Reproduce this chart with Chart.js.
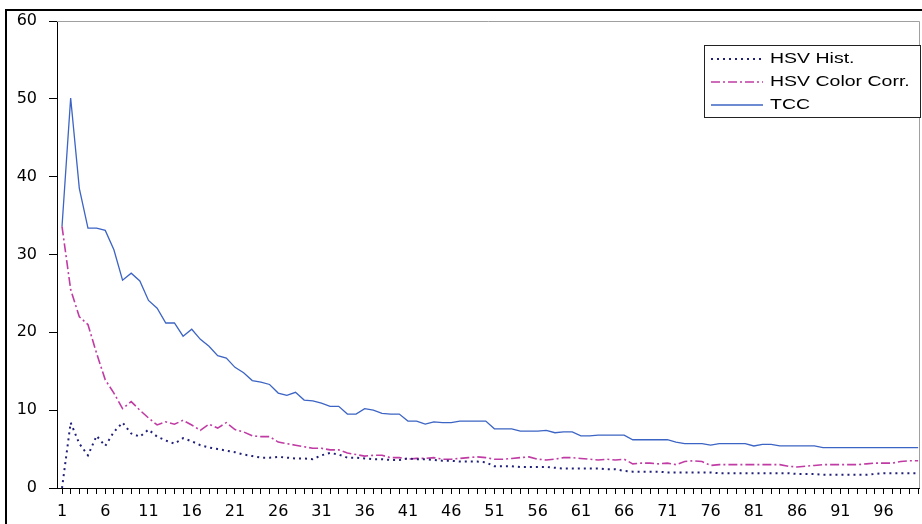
<!DOCTYPE html>
<html>
<head>
<meta charset="utf-8">
<script src="https://cdn.jsdelivr.net/npm/chart.js@4"></script>
<style>
  html, body { margin: 0; padding: 0; background: #fff; }
  #wrap { width: 922px; height: 524px; }
</style>
</head>
<body>
<div id="wrap"><canvas id="chart" width="922" height="524"></canvas></div>
<script>
// period numbers 1..100
const periods = Array.from({ length: 100 }, (_, i) => i + 1);

const hsvHist = [
  0, 8.4, 5.7, 4.2, 6.7, 5.4, 7.2, 8.4, 7.0, 6.6,
  7.5, 6.6, 6.1, 5.7, 6.4, 6.0, 5.5, 5.2, 5.0, 4.8,
  4.6, 4.3, 4.1, 3.9, 3.9, 4.0, 3.9, 3.8, 3.8, 3.7,
  4.2, 4.5, 4.3, 3.9, 3.9, 3.8, 3.7, 3.7, 3.6, 3.6,
  3.8, 3.7, 3.7, 3.6, 3.5, 3.5, 3.4, 3.4, 3.4, 3.3,
  2.8, 2.8, 2.8, 2.7, 2.7, 2.7, 2.7, 2.6, 2.5, 2.5,
  2.5, 2.5, 2.5, 2.4, 2.4, 2.2, 2.1, 2.1, 2.1, 2.1,
  2.0, 2.0, 2.0, 2.0, 2.0, 2.0, 1.9, 1.9, 1.9, 1.9,
  1.9, 1.9, 1.9, 1.9, 1.9, 1.8, 1.8, 1.8, 1.7, 1.7,
  1.7, 1.7, 1.7, 1.7, 1.8, 1.9, 1.9, 1.9, 1.9, 1.9
];

const hsvColorCorr = [
  33.6, 25.5, 22.0, 21.0, 17.3, 13.9, 12.2, 10.2, 11.1, 10.0,
  9.0, 8.1, 8.5, 8.2, 8.7, 8.1, 7.4, 8.2, 7.7, 8.4,
  7.5, 7.2, 6.7, 6.6, 6.6, 5.9, 5.7, 5.5, 5.3, 5.1,
  5.1, 4.9, 4.9, 4.5, 4.3, 4.1, 4.2, 4.2, 3.9, 3.9,
  3.7, 3.8, 3.8, 3.9, 3.7, 3.7, 3.8, 3.9, 4.0, 3.9,
  3.7, 3.7, 3.8, 3.9, 4.0, 3.7, 3.6, 3.7, 3.9, 3.9,
  3.8, 3.7, 3.6, 3.7, 3.6, 3.7, 3.1, 3.2, 3.2, 3.1,
  3.2, 3.0, 3.4, 3.5, 3.4, 2.9, 3.0, 3.0, 3.0, 3.0,
  3.0, 3.0, 3.0, 3.0, 2.8, 2.7, 2.8, 2.9, 3.0, 3.0,
  3.0, 3.0, 3.0, 3.1, 3.2, 3.2, 3.2, 3.4, 3.5, 3.5
];

const tcc = [
  33.6, 50.1, 38.5, 33.4, 33.4, 33.1, 30.6, 26.7, 27.6, 26.6,
  24.1, 23.1, 21.2, 21.2, 19.5, 20.4, 19.1, 18.2, 17.0, 16.7,
  15.5, 14.8, 13.8, 13.6, 13.3, 12.2, 11.9, 12.3, 11.3, 11.2,
  10.9, 10.5, 10.5, 9.5, 9.5, 10.2, 10.0, 9.6, 9.5, 9.5,
  8.6, 8.6, 8.2, 8.5, 8.4, 8.4, 8.6, 8.6, 8.6, 8.6,
  7.6, 7.6, 7.6, 7.3, 7.3, 7.3, 7.4, 7.1, 7.2, 7.2,
  6.7, 6.7, 6.8, 6.8, 6.8, 6.8, 6.2, 6.2, 6.2, 6.2,
  6.2, 5.9, 5.7, 5.7, 5.7, 5.5, 5.7, 5.7, 5.7, 5.7,
  5.4, 5.6, 5.6, 5.4, 5.4, 5.4, 5.4, 5.4, 5.2, 5.2,
  5.2, 5.2, 5.2, 5.2, 5.2, 5.2, 5.2, 5.2, 5.2, 5.2
];

const yTicks = [0, 10, 20, 30, 40, 50, 60];

const toPoints = arr => arr.map((v, i) => ({ x: periods[i], y: v }));

const FONT = "'Liberation Sans', Arial, sans-serif";
const TICK_FONT = "'DejaVu Sans', Verdana, sans-serif";

// frame, gray plot border and the boxed legend
const decorPlugin = {
  id: "decor",
  beforeDraw(chart) {
    const c = chart.ctx;
    c.save();
    c.fillStyle = "#fff";
    c.fillRect(0, 0, chart.width, chart.height);
    c.restore();
  },
  afterDraw(chart) {
    const c = chart.ctx;
    const a = chart.chartArea;
    c.save();
    // gray top and right border of the plot
    c.strokeStyle = "#a0a0a0";
    c.lineWidth = 1;
    c.beginPath();
    c.moveTo(a.left, a.top + 0.5);
    c.lineTo(a.right + 0.5, a.top + 0.5);
    c.lineTo(a.right + 0.5, a.bottom);
    c.stroke();

    // outer black frame (top and left)
    c.strokeStyle = "#000";
    c.lineWidth = 2;
    c.beginPath();
    c.moveTo(6, chart.height);
    c.lineTo(6, 10);
    c.lineTo(chart.width, 10);
    c.stroke();

    // legend box
    const bx = 704, by = 45, bw = 216, bh = 72;
    c.fillStyle = "#fff";
    c.fillRect(bx, by, bw, bh);
    c.strokeStyle = "#222";
    c.lineWidth = 1;
    c.strokeRect(bx + 0.5, by + 0.5, bw, bh);
    c.textBaseline = "middle";
    chart.data.datasets.forEach((ds, i) => {
      const y = by + 14 + i * 23;
      c.strokeStyle = ds.borderColor;
      c.lineWidth = ds.borderWidth;
      c.setLineDash(ds.borderDash || []);
      c.beginPath();
      c.moveTo(711, y);
      c.lineTo(763, y);
      c.stroke();
      c.setLineDash([]);
      // the original text is drawn wide, stretch it a bit
      c.save();
      c.translate(770, y);
      c.scale(1.3, 1);
      c.font = "15px " + FONT;
      c.fillStyle = "#000";
      c.fillText(ds.label, 0, 0);
      c.restore();
    });
    c.restore();
  }
};

new Chart(document.getElementById("chart"), {
  type: "line",
  data: {
    datasets: [
      {
        label: "HSV Hist.",
        data: toPoints(hsvHist),
        borderColor: "#20207a",
        borderWidth: 2,
        borderDash: [2, 4],
        pointRadius: 0,
        tension: 0
      },
      {
        label: "HSV Color Corr.",
        data: toPoints(hsvColorCorr),
        borderColor: "#c03ca4",
        borderWidth: 1.6,
        borderDash: [9, 3, 2, 3],
        pointRadius: 0,
        tension: 0
      },
      {
        label: "TCC",
        data: toPoints(tcc),
        borderColor: "#3c64c4",
        borderWidth: 1.3,
        pointRadius: 0,
        tension: 0
      }
    ]
  },
  options: {
    responsive: false,
    animation: false,
    layout: { padding: { top: 21, right: 3, left: 0, bottom: 0 } },
    plugins: {
      legend: { display: false },
      tooltip: { enabled: false }
    },
    scales: {
      x: {
        type: "linear",
        min: 0.42,
        max: 100.1,
        afterBuildTicks: scale => {
          scale.ticks = periods.map(v => ({ value: v }));
        },
        afterFit: scale => {
          scale.height = 36;
          scale.paddingLeft = 0;
          scale.paddingRight = 0;
        },
        ticks: {
          autoSkip: false,
          maxRotation: 0,
          padding: 8,
          color: "#000",
          font: { family: TICK_FONT, size: 16 },
          callback: v => ((v - 1) % 5 === 0 ? String(v) : "")
        },
        grid: {
          drawOnChartArea: false,
          drawTicks: true,
          tickLength: 6,
          color: "#000"
        },
        border: { color: "#000", width: 1 }
      },
      y: {
        min: 0,
        max: 60,
        afterBuildTicks: scale => {
          scale.ticks = yTicks.map(v => ({ value: v }));
        },
        afterFit: scale => {
          scale.width = 57;
          scale.paddingTop = 0;
          scale.paddingBottom = 0;
        },
        ticks: {
          padding: 12,
          color: "#000",
          font: { family: TICK_FONT, size: 16 }
        },
        grid: {
          drawOnChartArea: false,
          drawTicks: true,
          tickLength: 8,
          color: "#000"
        },
        border: { color: "#000", width: 1 }
      }
    }
  },
  plugins: [decorPlugin]
});
</script>
</body>
</html>
